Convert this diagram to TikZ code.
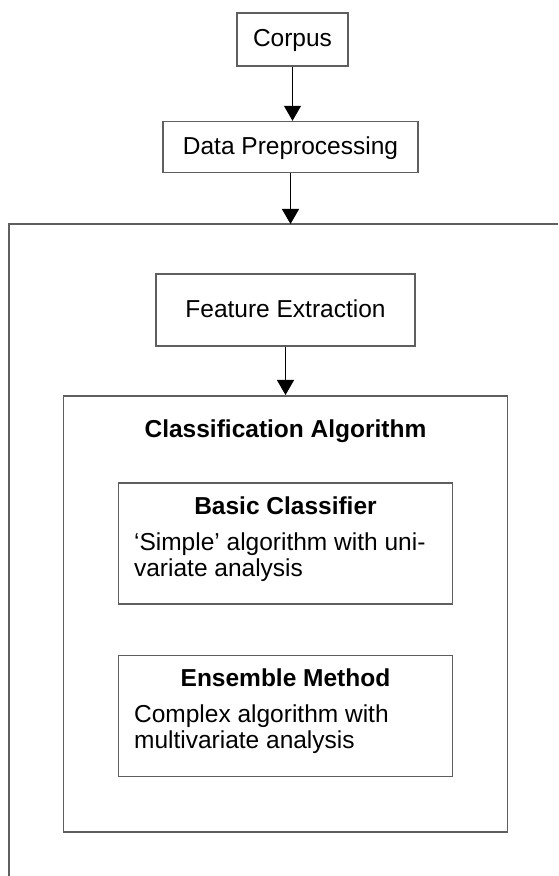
\documentclass[tikz,border=0pt]{standalone}
\usepackage{fontspec}
\setmainfont{Liberation Sans}
\usepackage{tikz}
\usetikzlibrary{arrows.meta,positioning}
\definecolor{boxgrey}{RGB}{95,95,95}

\begin{document}
\begin{tikzpicture}[
    x=0.5pt, y=-0.5pt,
    node distance=25pt,
    font=\fontsize{12.25}{13}\selectfont,
    box/.style={rectangle, draw=boxgrey, line width=0.8pt, fill=white,
                text height=0.72em, text depth=0pt},
    inbox/.style={rectangle, draw=boxgrey, line width=0.8pt,
                  minimum width=167pt, minimum height=60.5pt},
    head/.style={font=\fontsize{12.25}{13}\selectfont\bfseries, anchor=base, inner sep=0pt},
    body/.style={anchor=north west, align=left, inner sep=0pt},
    arrow/.style={-{Triangle[width=8.5pt,length=7.5pt]}, line width=0.6pt, color=black}
  ]
    \useasboundingbox (0,0) rectangle (558,876);

    \node[box, minimum width=55.5pt, minimum height=26.5pt] (corpus) at (292.5,39.5) {Corpus};

    \node[box, minimum width=127.5pt, minimum height=25.5pt,
          below=27pt of corpus, xshift=-1pt] (prep) {Data Preprocessing};

    % outer frame, cut off at the page edges
    \coordinate (frametop) at (9,224);
    \draw[boxgrey, line width=0.8pt] (9,876) |- (558,224);

    \node[box, minimum width=129.5pt, minimum height=36pt,
          below=50pt of prep, xshift=-2.5pt] (feat) {Feature Extraction};

    \node[rectangle, draw=boxgrey, line width=0.8pt, minimum width=222pt,
          minimum height=218pt, below=24pt of feat] (classif) {};
    \node[head] (classiftitle) at ([yshift=-21pt]classif.north) {Classification Algorithm};

    \node[inbox, below=43.5pt of classif.north] (basic) {};
    \node[head] (basictitle) at ([yshift=-16pt]basic.north) {Basic Classifier};
    \node[body] (basictext) at ([xshift=8pt,yshift=-25pt]basic.north west)
      {‘Simple’ algorithm with uni-\\variate analysis};

    \node[inbox, below=25pt of basic] (ensemble) {};
    \node[head] (ensembletitle) at ([yshift=-16pt]ensemble.north) {Ensemble Method};
    \node[body] (ensembletext) at ([xshift=8pt,yshift=-25pt]ensemble.north west)
      {Complex algorithm with\\multivariate analysis};

    \draw[arrow] (corpus.south) -- (corpus.south |- prep.north);
    \draw[arrow] (prep.south) -- (prep.south |- frametop);
    \draw[arrow] (feat.south) -- (feat.south |- classif.north);
  \end{tikzpicture}
\end{document}
